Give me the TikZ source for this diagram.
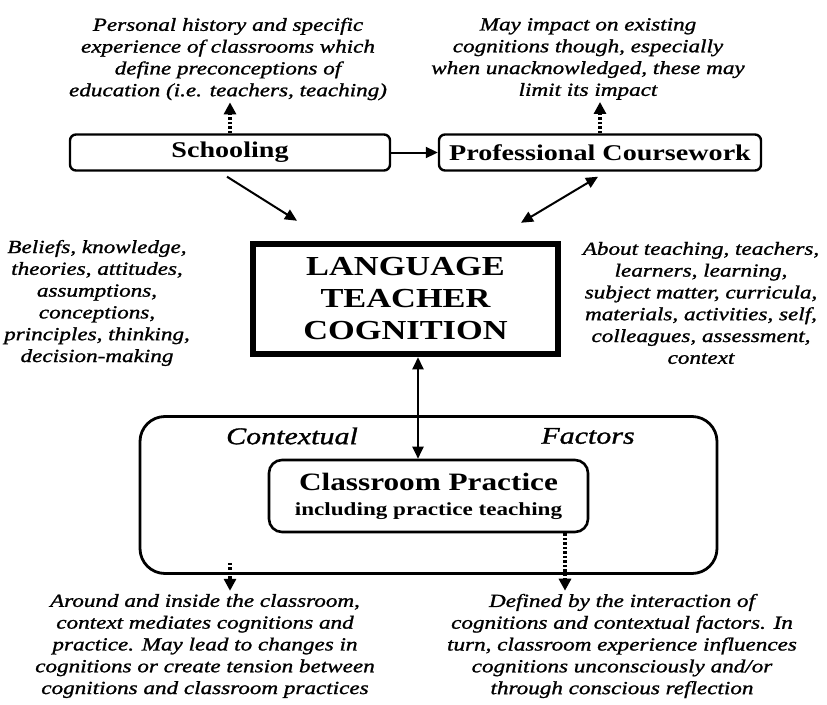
\documentclass[tikz,border=0pt]{standalone}
\usepackage{fontspec}
\setmainfont{Liberation Serif}[FakeStretch=1.25]
\newfontfamily\notefont{Liberation Serif}[FakeStretch=1.25, FakeBold=1.2]
\usetikzlibrary{arrows.meta, positioning}

\begin{document}
\begin{tikzpicture}[
    x=1pt, y=-1pt,
    note/.style={font=\fontsize{18.5}{21.8}\notefont\itshape, align=center, inner sep=0pt},
    box/.style={rectangle, draw, rounded corners=6pt, line width=2.4pt, minimum height=36pt, font=\fontsize{22.5}{26}\selectfont\bfseries, align=center},
    arrow/.style={-{Triangle[length=12pt, width=11pt]}, line width=2pt},
    dotarrow/.style={-{Triangle[length=12pt, width=12pt]}, line width=4pt, dash pattern=on 2.5pt off 2pt}
]
    \useasboundingbox (0,0) rectangle (827,704);

    % top row
    \node[box, minimum width=320pt] (school) at (230,152.5) {Schooling};
    \node[box, minimum width=322pt] (course) at (600,152.5) {Professional Coursework};
    \node[note] (history) at (228,59) {Personal history and specific\\experience of classrooms which\\define preconceptions of\\education (i.e. teachers, teaching)};
    \node[note] (impact) at (588,59) {May impact on existing\\cognitions though, especially\\when unacknowledged, these may\\limit its impact};

    % centre
    \node[draw, line width=6.5pt, minimum width=305pt, minimum height=110pt, align=center, font=\fontsize{27.5}{32}\selectfont\bfseries] (ltc) at (405.5,299) {LANGUAGE\\TEACHER\\COGNITION};
    \node[note] (beliefs) at (97,303) {Beliefs, knowledge,\\theories, attitudes,\\assumptions,\\conceptions,\\principles, thinking,\\decision-making};
    \node[note] (about) at (701,303) {About teaching, teachers,\\learners, learning,\\subject matter, curricula,\\materials, activities, self,\\colleagues, assessment,\\context};

    % context
    \node[draw, rounded corners=25pt, line width=2.8pt, minimum width=577pt, minimum height=157pt] (ctx) at (428.5,495) {};
    \node[note, font=\fontsize{24}{26}\notefont\itshape] (ctxleft) at (292,436) {Contextual};
    \node[note, font=\fontsize{24}{26}\notefont\itshape] (ctxright) at (588,436) {Factors};
    \node[box, rounded corners=13pt, line width=2.6pt, minimum width=319pt, minimum height=72pt, font=\fontsize{25}{27}\selectfont\bfseries] (cp) at (428.5,496) {Classroom Practice\\[-2pt]{\fontsize{18.5}{20}\selectfont including practice teaching}};

    % bottom
    \node[note] (around) at (205,646) {Around and inside the classroom,\\context mediates cognitions and\\practice. May lead to changes in\\cognitions or create tension between\\cognitions and classroom practices};
    \node[note] (defined) at (622,646) {Defined by the interaction of\\cognitions and contextual factors. In\\turn, classroom experience influences\\cognitions unconsciously and/or\\through conscious reflection};

    % connectors
    \draw[arrow] (school) -- (course);
    \draw[dotarrow, shorten >=2pt] (school.north) -- (school.north |- history.south);
    \draw[dotarrow, shorten >=2pt] (course.north) -- (course.north |- impact.south);
    \draw[arrow] ([xshift=-3pt, yshift=-5pt]school.south) -- ([xshift=-108.5pt, yshift=20pt]ltc.north);
    \draw[arrow, {Triangle[length=12pt, width=11pt]}-{Triangle[length=12pt, width=11pt]}] ([xshift=-2pt, yshift=-5pt]course.south) -- ([xshift=115.5pt, yshift=18pt]ltc.north);
    \draw[arrow, {Triangle[length=12pt, width=11pt]}-{Triangle[length=12pt, width=11pt]}] ([xshift=12.5pt]ltc.south) -- ([xshift=12.5pt]ltc.south |- cp.north);
    \draw[dotarrow, shorten >=3pt] ([yshift=12pt]ctx.south -| school) -- (around.north -| school);
    \draw[dotarrow, shorten >=3pt] ([xshift=136.5pt]cp.south) -- ([xshift=136.5pt]cp.south |- defined.north);
\end{tikzpicture}
\end{document}
